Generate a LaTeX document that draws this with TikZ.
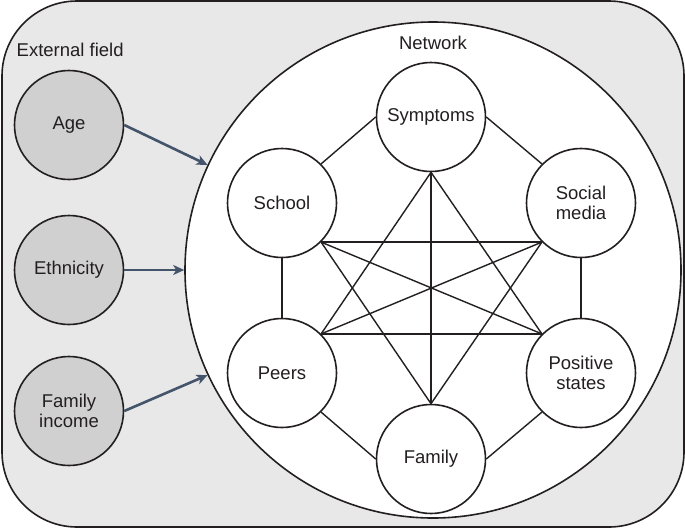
\documentclass[tikz,border=0pt]{standalone}
\usepackage{fontspec}
\setmainfont{Liberation Sans}
\usetikzlibrary{arrows.meta}
\definecolor{fieldbg}{HTML}{E8E8E8}
\definecolor{covarbg}{HTML}{D0D0D0}
\definecolor{ink}{HTML}{231F20}
\definecolor{slate}{HTML}{44546A}

\begin{document}
\begin{tikzpicture}[
  x=1pt,y=-1pt,
  font=\fontsize{18.5}{20}\selectfont, text=ink,
  field/.style={draw=ink,fill=fieldbg,line width=1.6pt,rounded corners=75pt},
  netw/.style={circle,draw=ink,fill=white,line width=1.6pt,inner sep=0pt,minimum size=496pt},
  item/.style={circle,draw=ink,fill=white,line width=1.6pt,inner sep=0pt,minimum size=109pt,align=center},
  covar/.style={item,fill=covarbg},
  tie/.style={draw=ink,line width=1.4pt},
  effect/.style={-{Stealth[length=11pt,width=10pt,inset=3pt]},draw=slate,line width=2.6pt}
]
\useasboundingbox (0,0) rectangle (685,528);
\draw[field] (2,1) rectangle (684,527);
\node[anchor=base west,inner sep=0pt] (fieldlab) at (16.5,56.5) {External field};

\node[netw] (network) at (433,270) {};
\node[inner sep=0pt] (netlab) at (433,43) {Network};

\node[item] (symptoms) at (431,117) {Symptoms};
\node[item] (school) at (282,203) {School};
\node[item] (social) at (581,203) {Social\\media};
\node[item] (peers) at (282,373) {Peers};
\node[item] (positive) at (581,373) {Positive\\states};
\node[item] (family) at (431,459) {Family};

\node[covar] (age) at (69,125) {Age};
\node[covar] (ethnicity) at (69,270) {Ethnicity};
\node[covar] (income) at (69,411) {Family\\income};

% outer ring
\draw[tie] (symptoms.west) -- (school.north east);
\draw[tie] (symptoms.east) -- (social.north west);
\draw[tie] (school.south) -- (peers.north);
\draw[tie] (social.south) -- (positive.north);
\draw[tie] (peers.south east) -- (family.west);
\draw[tie] (positive.south west) -- (family.east);

% inner star
\draw[tie] (symptoms.south) -- (peers.north east);
\draw[tie] (symptoms.south) -- (positive.north west);
\draw[tie] (symptoms.south) -- (family.north);
\draw[tie] (school.south east) -- (social.south west);
\draw[tie] (school.south east) -- (positive.north west);
\draw[tie] (school.south east) -- (family.north);
\draw[tie] (social.south west) -- (peers.north east);
\draw[tie] (social.south west) -- (family.north);
\draw[tie] (peers.north east) -- (positive.north west);

\draw[effect] (age.east) -- (network.155);
\draw[effect] (ethnicity.east) -- (network.west);
\draw[effect] (income.east) -- (network.205);

\end{tikzpicture}
\end{document}
